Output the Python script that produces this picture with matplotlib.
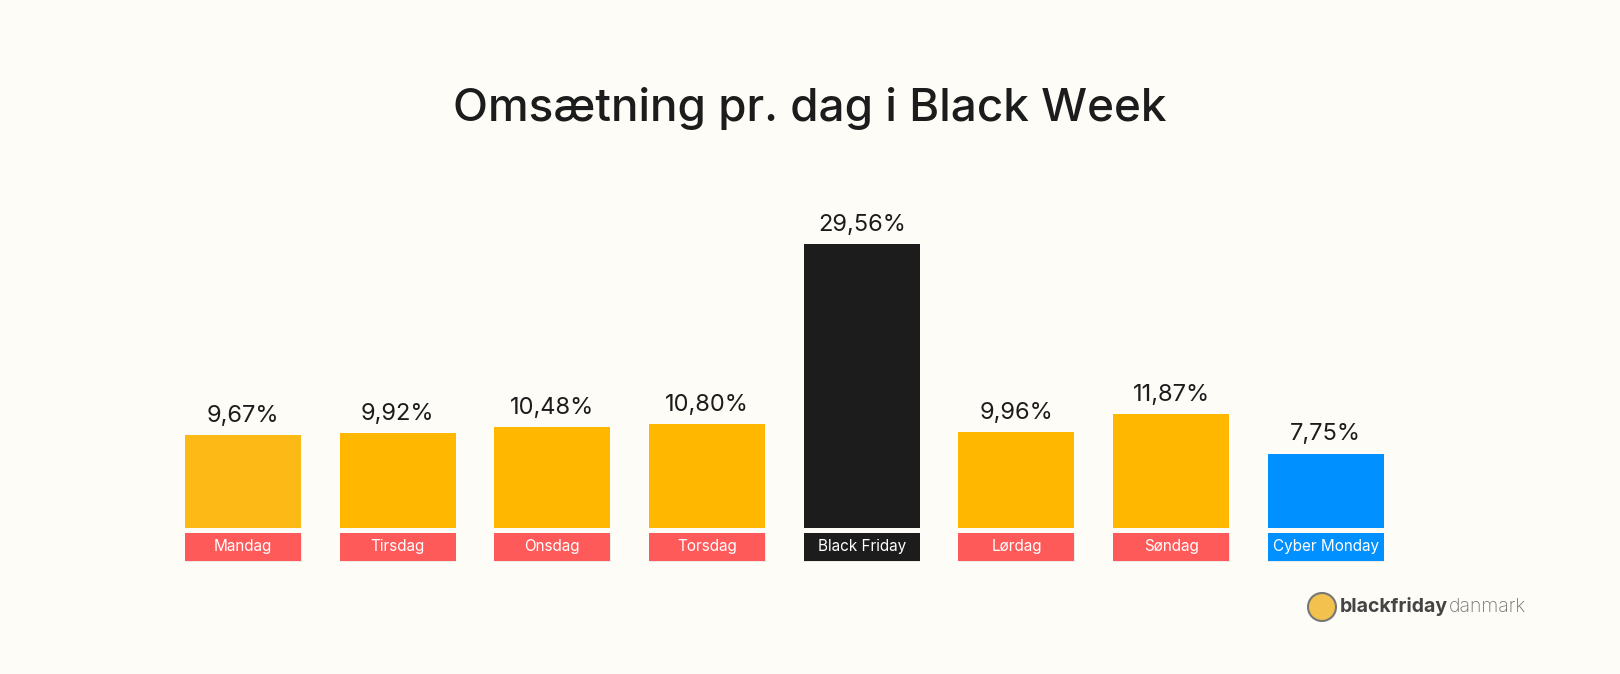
import matplotlib
matplotlib.use("Agg")
import matplotlib.pyplot as plt
from matplotlib.patches import Ellipse

days = ["Mandag", "Tirsdag", "Onsdag", "Torsdag", "Black Friday", "Lørdag", "Søndag", "Cyber Monday"]
shares = [9.67, 9.92, 10.48, 10.80, 29.56, 9.96, 11.87, 7.75]
bar_colors = ["#FDBA17", "#FFB700", "#FFB700", "#FFB700", "#1C1C1C", "#FFB700", "#FFB700", "#0090FF"]
tag_colors = ["#FF5A5A"] * 4 + ["#1C1C1C"] + ["#FF5A5A"] * 2 + ["#0090FF"]

bg = "#FDFCF7"
plt.rcParams['font.family'] = ['Inter', 'DejaVu Sans']

fig = plt.figure(figsize=(16.2, 6.74), dpi=100, facecolor=bg)
W, H = 1620, 674
unit = 9.6  # px per percent
ax = fig.add_axes([165.6 / W, (H - 528 - 3.6 * unit) / H, 1237.6 / W, (35.6 * unit) / H])
ax.set_facecolor(bg)
ax.set_xlim(-0.5, 7.5)
ax.set_ylim(-3.6, 32)
ax.axis("off")

x = range(len(days))
ax.bar(x, shares, width=0.75, color=bar_colors)
ax.bar([i + 0.004 for i in x], [-2.95] * 8, bottom=-0.6, width=0.75, color="#00000012")
ax.bar(x, [-2.9] * 8, bottom=-0.52, width=0.75, color=tag_colors)
for i, (d, s) in enumerate(zip(days, shares)):
    ax.text(i, -1.97, d, ha="center", va="center", color="white", fontsize=11)
    ax.text(i, s + 2.0, f"{s:.2f}%".replace(".", ","), ha="center", va="center",
            color="#1C1C1C", fontsize=17)

fig.text(0.5, (H - 108) / H, "Omsætning pr. dag i Black Week", ha="center", va="center",
         fontsize=33, color="#1C1C1C", fontweight="medium")

# logo
ly = (H - 607) / H
fig.patches.append(Ellipse((1322 / W, ly), 28 / W, 28 / H, transform=fig.transFigure,
                           facecolor="#F2C14E", edgecolor="#777777", lw=1.5))
t1 = fig.text(1340 / W, ly, "blackfriday", ha="left", va="center", fontsize=14,
              fontweight="bold", color="#444444")
fig.canvas.draw()
bb = t1.get_window_extent()
fig.text(bb.x1 / W + 1 / W, ly, "danmark", ha="left", va="center", fontsize=14,
         color="#777777", fontweight="light")

fig.savefig("out.png", dpi=100, facecolor=bg)
